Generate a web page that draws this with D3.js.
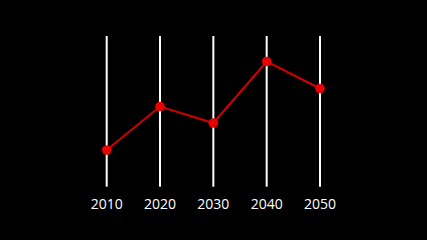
<!DOCTYPE html>
<html>
<head>
<meta charset="utf-8">
<script src="https://cdn.jsdelivr.net/npm/d3@7"></script>
<style>
  html, body { margin: 0; padding: 0; background: #000; }
  svg { display: block; }
</style>
</head>
<body>
<div id="chart"></div>
<script>
var years = [2010, 2020, 2030, 2040, 2050];
var values = [2.4, 5.3, 4.2, 8.3, 6.5];

var width = 427, height = 240;

var svg = d3.select("#chart").append("svg")
    .attr("width", width)
    .attr("height", height)
    .style("background", "#000");

var x = d3.scaleLinear().domain([2010, 2050]).range([106.7, 320]);
var y = d3.scaleLinear().domain([0, 10]).range([186, 36]);

// vertical white grid lines at each year
svg.append("g")
    .selectAll("line")
    .data(years)
    .enter()
    .append("line")
    .attr("x1", function(d) { return x(d); })
    .attr("x2", function(d) { return x(d); })
    .attr("y1", y(10))
    .attr("y2", y(0) + 0.7)
    .attr("stroke", "#fff")
    .attr("stroke-width", 2);

// year labels
svg.append("g")
    .selectAll("text")
    .data(years)
    .enter()
    .append("text")
    .attr("x", function(d) { return x(d); })
    .attr("y", 209)
    .attr("text-anchor", "middle")
    .attr("fill", "#fff")
    .style("font-family", "'Open Sans', 'Noto Sans', sans-serif")
    .style("font-size", "14px")
    .style("font-weight", "500")
    .text(function(d) { return d; });

var pts = years.map(function(d, i) { return [d, values[i]]; });

var line = d3.line()
    .x(function(d) { return x(d[0]); })
    .y(function(d) { return y(d[1]); });

svg.append("path")
    .datum(pts)
    .attr("d", line)
    .attr("fill", "none")
    .attr("stroke", "#d00000")
    .attr("stroke-width", 2);

svg.append("g")
    .selectAll("circle")
    .data(pts)
    .enter()
    .append("circle")
    .attr("cx", function(d) { return x(d[0]); })
    .attr("cy", function(d) { return y(d[1]); })
    .attr("r", 4.8)
    .attr("fill", "#e60000");
</script>
</body>
</html>
